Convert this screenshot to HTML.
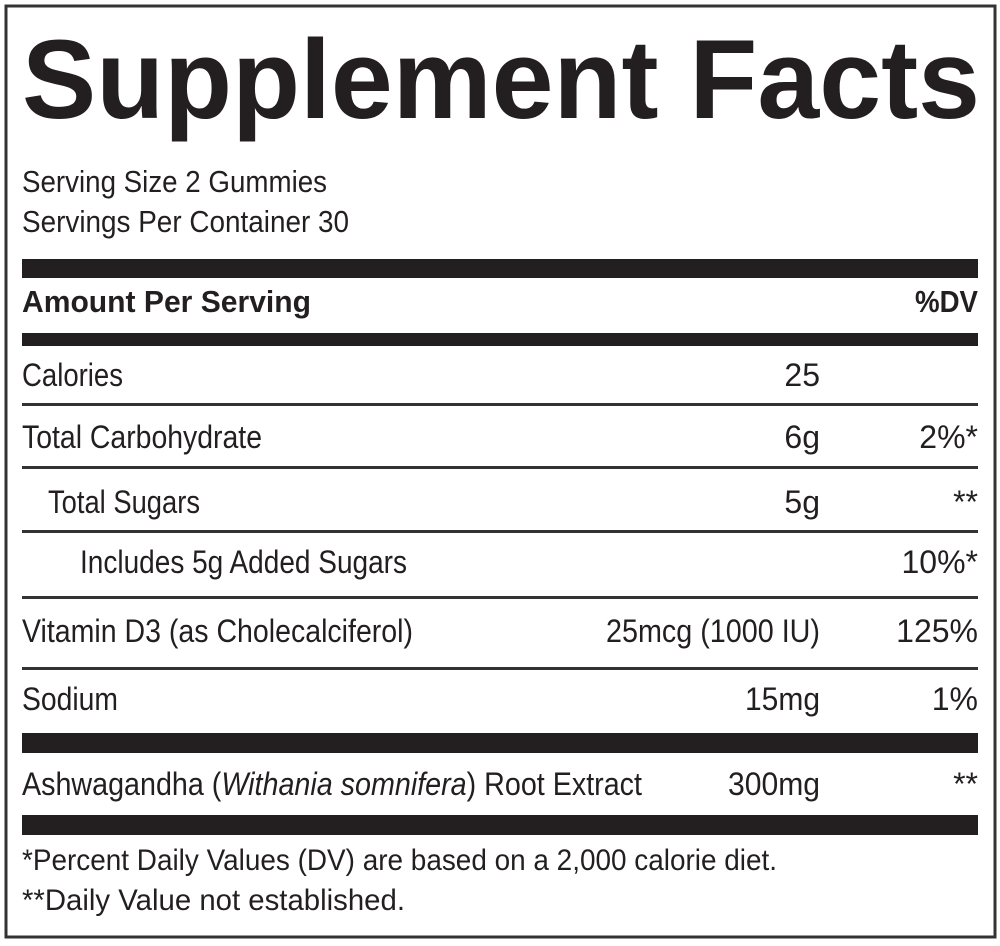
<!DOCTYPE html>
<html><head><style>
html,body{margin:0;padding:0;background:#fff;}
svg{display:block;}
text{font-family:"Liberation Sans",sans-serif;fill:#231f20;}
</style></head><body>
<svg width="1000" height="946" viewBox="0 0 1000 946" xmlns="http://www.w3.org/2000/svg">
<rect x="6" y="6" width="989" height="931" fill="none" stroke="#333" stroke-width="3"/>
<text x="22" y="118" font-size="112" font-weight="bold" textLength="958" lengthAdjust="spacingAndGlyphs">Supplement Facts</text>
<text x="22" y="192" font-size="31" textLength="305" lengthAdjust="spacingAndGlyphs">Serving Size 2 Gummies</text>
<text x="22" y="232" font-size="31" textLength="327" lengthAdjust="spacingAndGlyphs">Servings Per Container 30</text>
<rect x="22" y="259" width="956" height="19" fill="#231f20"/>
<text x="22" y="312" font-size="31" font-weight="bold" textLength="289" lengthAdjust="spacingAndGlyphs">Amount Per Serving</text>
<text x="915" y="312" font-size="31" font-weight="bold" textLength="63" lengthAdjust="spacingAndGlyphs">%DV</text>
<rect x="22" y="333" width="956" height="13" fill="#231f20"/>
<text x="22" y="386" font-size="32" textLength="101" lengthAdjust="spacingAndGlyphs">Calories</text>
<text x="820" y="386" font-size="32" text-anchor="end">25</text>
<rect x="22" y="403" width="956" height="3" fill="#333"/>
<text x="22" y="448" font-size="32" textLength="240" lengthAdjust="spacingAndGlyphs">Total Carbohydrate</text>
<text x="820" y="448" font-size="32" text-anchor="end">6g</text>
<text x="978" y="448" font-size="32" text-anchor="end">2%*</text>
<rect x="22" y="466" width="956" height="3" fill="#333"/>
<text x="48" y="513" font-size="32" textLength="152" lengthAdjust="spacingAndGlyphs">Total Sugars</text>
<text x="820" y="513" font-size="32" text-anchor="end">5g</text>
<text x="978" y="513" font-size="32" text-anchor="end">**</text>
<rect x="22" y="530" width="956" height="3" fill="#333"/>
<text x="80" y="573" font-size="32" textLength="327" lengthAdjust="spacingAndGlyphs">Includes 5g Added Sugars</text>
<text x="978" y="573" font-size="32" text-anchor="end">10%*</text>
<rect x="22" y="596" width="956" height="3" fill="#333"/>
<text x="22" y="642" font-size="32" textLength="391" lengthAdjust="spacingAndGlyphs">Vitamin D3 (as Cholecalciferol)</text>
<text x="606" y="642" font-size="32" textLength="214" lengthAdjust="spacingAndGlyphs">25mcg (1000 IU)</text>
<text x="978" y="642" font-size="32" text-anchor="end">125%</text>
<rect x="22" y="667" width="956" height="3" fill="#333"/>
<text x="22" y="710" font-size="32" textLength="96" lengthAdjust="spacingAndGlyphs">Sodium</text>
<text x="745" y="710" font-size="32" textLength="75" lengthAdjust="spacingAndGlyphs">15mg</text>
<text x="978" y="710" font-size="32" text-anchor="end">1%</text>
<rect x="22" y="733" width="956" height="20" fill="#231f20"/>
<text x="22" y="795" font-size="32" textLength="620" lengthAdjust="spacingAndGlyphs">Ashwagandha (<tspan font-style="italic">Withania somnifera</tspan>) Root Extract</text>
<text x="728" y="795" font-size="32" textLength="92" lengthAdjust="spacingAndGlyphs">300mg</text>
<text x="978" y="795" font-size="32" text-anchor="end">**</text>
<rect x="22" y="815" width="956" height="20" fill="#231f20"/>
<text x="22" y="870" font-size="30" textLength="755" lengthAdjust="spacingAndGlyphs">*Percent Daily Values (DV) are based on a 2,000 calorie diet.</text>
<text x="22" y="910" font-size="30" textLength="383" lengthAdjust="spacingAndGlyphs">**Daily Value not established.</text>
</svg>
</body></html>
